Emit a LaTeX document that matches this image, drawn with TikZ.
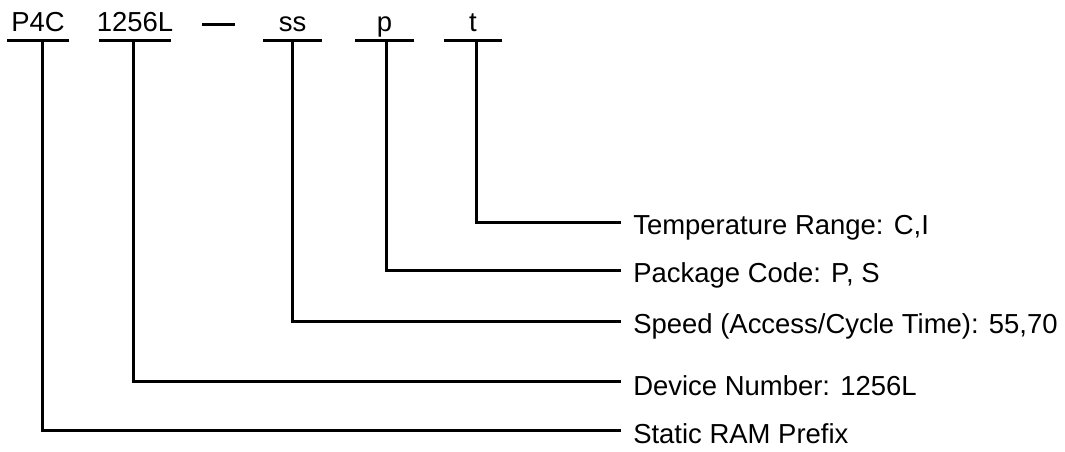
\documentclass[tikz,border=0pt]{standalone}
\usepackage{fontspec}
\setmainfont{Liberation Sans}
\begin{document}
\begin{tikzpicture}[x=0.75pt,y=-0.75pt,
  lbl/.style={inner sep=0pt,font=\fontsize{20.6}{24}\selectfont},
  ln/.style={line width=2.25pt}]
\useasboundingbox (0,0) rectangle (1065,452);
% top labels
\node[lbl,anchor=base] (p4c) at (38,32) {P4C};
\node[lbl,anchor=base] (dev) at (135,32) {1256L};
\node[lbl,anchor=base] (ss) at (292.5,32) {ss};
\node[lbl,anchor=base] (p) at (384.5,32) {p};
\node[lbl,anchor=base] (t) at (473,32) {t};
% underline bars
\draw[ln] (7,41) -- (69,41);
\draw[ln] (99,41) -- (171,41);
\draw[ln] (202,25) -- (235,25);
\draw[ln] (263,41) -- (322,41);
\draw[ln] (355,41) -- (414,41);
\draw[ln] (444,41) -- (502,41);
% stem tops
\coordinate (st) at (476,41);
\coordinate (sp) at (386,41);
\coordinate (sss) at (292,41);
\coordinate (sd) at (133,41);
\coordinate (sr) at (42,41);
% line ends
\coordinate (et) at (621,223);
\coordinate (ep) at (621,271);
\coordinate (es) at (621,322);
\coordinate (ed) at (621,382);
\coordinate (er) at (621,431);
% right labels
\node[lbl,anchor=base west] (lt) at (633,235) {Temperature Range: C,I};
\node[lbl,anchor=base west] (lp) at (633,283) {Package Code: P, S};
\node[lbl,anchor=base west] (ls) at (633,334) {Speed (Access/Cycle Time): 55,70};
\node[lbl,anchor=base west] (ld) at (633,396) {Device Number: 1256L};
\node[lbl,anchor=base west] (lr) at (633,444) {Static RAM Prefix};
% connectors
\draw[ln] (st) |- (et);
\draw[ln] (sp) |- (ep);
\draw[ln] (sss) |- (es);
\draw[ln] (sd) |- (ed);
\draw[ln] (sr) |- (er);
\end{tikzpicture}
\end{document}
